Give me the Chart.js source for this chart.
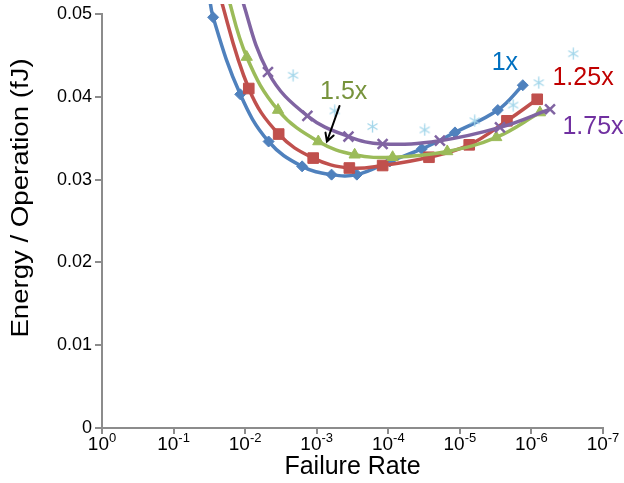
<!DOCTYPE html>
<html><head><meta charset="utf-8">
<script src="https://cdn.jsdelivr.net/npm/chart.js@4"></script>
<style>html,body{margin:0;padding:0;background:#fff}</style>
</head><body>
<canvas id="c" width="624" height="483"></canvas>
<script>
// ---- data (failure rate, energy per operation in fJ) ----
const xTickExponents = [0, -1, -2, -3, -4, -5, -6, -7];
const yTickValues = [0, 0.01, 0.02, 0.03, 0.04, 0.05];

// first point of each line lies just above the plotted range (line enters from the top)
const rate1x   = [3.24e-2, 2.8e-2, 1.17e-2, 4.7e-3, 1.6e-3, 6.2e-4, 2.75e-4, 9.5e-5, 3.4e-5, 1.17e-5, 2.95e-6, 1.32e-6];
const energy1x = [0.0530, 0.0496, 0.0403, 0.0346, 0.0316, 0.0306, 0.0306, 0.0322, 0.0337, 0.0357, 0.0384, 0.0414];

const rate125x   = [2.5e-2, 8.9e-3, 3.4e-3, 1.12e-3, 3.5e-4, 1.2e-4, 2.7e-5, 7.4e-6, 2.2e-6, 8.3e-7];
const energy125x = [0.0535, 0.0410, 0.0355, 0.0326, 0.0314, 0.0317, 0.0327, 0.0342, 0.0371, 0.0397];

const rate15x   = [1.86e-2, 9.5e-3, 3.47e-3, 9.5e-4, 2.95e-4, 8.7e-5, 1.5e-5, 3.1e-6, 7.6e-7];
const energy15x = [0.0530, 0.0448, 0.0384, 0.0346, 0.0330, 0.0327, 0.0334, 0.0351, 0.0381];

const rate175x   = [1.23e-2, 4.8e-3, 1.35e-3, 3.6e-4, 1.2e-4, 1.9e-5, 2.75e-6, 5.5e-7];
const energy175x = [0.0530, 0.0430, 0.0377, 0.0352, 0.0343, 0.0347, 0.0363, 0.0385];

const rateStar   = [2.14e-3, 5.6e-4, 1.66e-4, 3.1e-5, 6.2e-6, 1.8e-6, 7.9e-7, 2.6e-7];
const energyStar = [0.0426, 0.0383, 0.0364, 0.0360, 0.0371, 0.0390, 0.0417, 0.0452];

const seriesLabels = ['1x', '1.25x', '1.5x', '1.75x'];
const labelRates    = [2.35e-6, 1.9e-7, 4.2e-4, 1.38e-7];
const labelEnergies = [0.0441, 0.0423, 0.0406, 0.0363];
const arrowFrom = [4.8e-4, 0.0389];
const arrowTo   = [7.2e-4, 0.0346];

// ---- styling ----
const C_BLUE = '#4F81BD', C_RED = '#C0504D', C_GREEN = '#9BBB59', C_PURPLE = '#8064A2', C_STAR = '#a3d6ea';
const LABEL_COLORS = ['#0070C0', '#C00000', '#77933C', '#7030A0'];
const AXIS = '#8c8c8c';
const FONT = '"Liberation Sans", Arial, sans-serif';

function pts(xs, ys){ return xs.map((v, i) => ({x: v, y: ys[i]})); }
function radii(n, r, hideFirst){ return Array.from({length: n}, (_, i) => (hideFirst && i === 0) ? 0 : r); }

// Excel-like asterisk marker (vertical bar + diagonal cross)
function makeStar(color){
  const c = document.createElement('canvas'); c.width = 13; c.height = 13;
  const g = c.getContext('2d'); g.strokeStyle = color; g.lineWidth = 1.3;
  g.beginPath();
  g.moveTo(6.5, 0.5); g.lineTo(6.5, 12.5);
  g.moveTo(1.5, 3.5); g.lineTo(11.5, 9.5);
  g.moveTo(11.5, 3.5); g.lineTo(1.5, 9.5);
  g.stroke();
  return c;
}

function lineSet(label, xs, ys, color, style, r, bw){
  return {
    label, data: pts(xs, ys), borderColor: color, backgroundColor: color,
    borderWidth: 3.5, tension: 0.4, showLine: true,
    pointStyle: style, pointRadius: radii(xs.length, r, true), pointBorderWidth: bw,
    pointBorderColor: color, pointBackgroundColor: color,
    clip: {left: 0, top: 10, right: 30, bottom: 0}
  };
}

const annot = {
  id: 'annot',
  afterDraw(chart){
    const {ctx, scales: {x, y}} = chart;
    ctx.save();
    // series labels
    ctx.font = '25px ' + FONT;
    ctx.textAlign = 'center'; ctx.textBaseline = 'middle';
    seriesLabels.forEach((t, i) => {
      ctx.fillStyle = LABEL_COLORS[i];
      ctx.fillText(t, x.getPixelForValue(labelRates[i]), y.getPixelForValue(labelEnergies[i]));
    });
    // arrow
    const x0 = x.getPixelForValue(arrowFrom[0]), y0 = y.getPixelForValue(arrowFrom[1]);
    const x1 = x.getPixelForValue(arrowTo[0]), y1 = y.getPixelForValue(arrowTo[1]);
    const a = Math.atan2(y1 - y0, x1 - x0), L = 9;
    ctx.strokeStyle = '#000'; ctx.lineWidth = 2; ctx.lineCap = 'round';
    ctx.beginPath(); ctx.moveTo(x0, y0); ctx.lineTo(x1, y1);
    ctx.moveTo(x1 - L * Math.cos(a - 0.5), y1 - L * Math.sin(a - 0.5)); ctx.lineTo(x1, y1);
    ctx.lineTo(x1 - L * Math.cos(a + 0.5), y1 - L * Math.sin(a + 0.5));
    ctx.stroke();
    // x tick labels: 10 with superscript exponent
    ctx.fillStyle = '#000'; ctx.textBaseline = 'alphabetic'; ctx.textAlign = 'left';
    const baseFont = '19px ' + FONT, expFont = '13px ' + FONT;
    const baseY = chart.chartArea.bottom + 22;
    xTickExponents.forEach(e => {
      const px = x.getPixelForValue(Math.pow(10, e));
      const es = e === 0 ? '0' : '-' + Math.abs(e);
      ctx.font = baseFont; const wb = ctx.measureText('10').width;
      ctx.font = expFont; const we = ctx.measureText(es).width;
      const left = px - (wb + we) / 2;
      ctx.font = baseFont; ctx.fillText('10', left, baseY);
      ctx.font = expFont; ctx.fillText(es, left + wb, baseY - 8);
    });
    // y axis title
    ctx.textAlign = 'center'; ctx.textBaseline = 'middle';
    ctx.translate(22, 198); ctx.rotate(-Math.PI / 2); ctx.scale(1.2, 1);
    ctx.fillStyle = '#000'; ctx.font = '23px ' + FONT;
    ctx.fillText('Energy / Operation (fJ)', 0, 0);
    ctx.restore();
  }
};

new Chart(document.getElementById('c'), {
  type: 'scatter',
  data: {
    datasets: [
      {label: 'ref', data: pts(rateStar, energyStar), showLine: false, pointStyle: makeStar(C_STAR),
       pointRadius: 6, borderColor: C_STAR, backgroundColor: C_STAR},
      lineSet('1.75x', rate175x, energy175x, C_PURPLE, 'crossRot', 7, 2.5),
      lineSet('1.5x', rate15x, energy15x, C_GREEN, 'triangle', 6.5, 1),
      lineSet('1.25x', rate125x, energy125x, C_RED, 'rect', 7.5, 1),
      lineSet('1x', rate1x, energy1x, C_BLUE, 'rectRot', 5.5, 1)
    ]
  },
  options: {
    responsive: false, animation: false, devicePixelRatio: 1,
    layout: {padding: {top: 14, right: 21, left: 0, bottom: 0}},
    plugins: {legend: {display: false}, tooltip: {enabled: false}},
    scales: {
      x: {
        type: 'logarithmic', reverse: true, min: 1e-7, max: 1,
        afterBuildTicks: s => { s.ticks = xTickExponents.map(e => ({value: Math.pow(10, e)})); },
        afterFit: s => { s.height = 55; },
        ticks: {display: false, autoSkip: false},
        grid: {drawOnChartArea: false, drawTicks: true, tickLength: 6, color: AXIS, lineWidth: 2},
        border: {color: AXIS, width: 2},
        title: {display: true, text: 'Failure Rate', color: '#000', font: {family: FONT, size: 25}, padding: {top: 0, bottom: 1}}
      },
      y: {
        type: 'linear', min: 0, max: 0.05,
        afterBuildTicks: s => { s.ticks = yTickValues.map(v => ({value: v})); },
        afterFit: s => { s.width = 102; },
        ticks: {
          color: '#000', padding: 3, font: {family: FONT, size: 18},
          callback: (v) => v === 0 ? '0' : v.toFixed(2)
        },
        grid: {drawOnChartArea: false, drawTicks: true, tickLength: 7, color: AXIS, lineWidth: 2},
        border: {color: AXIS, width: 2}
      }
    }
  },
  plugins: [annot]
});
</script>
</body></html>
